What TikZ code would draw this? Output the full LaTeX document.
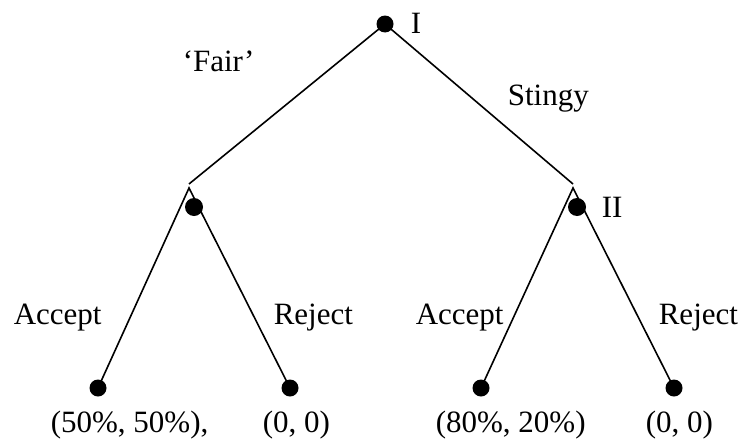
\documentclass[tikz,border=0pt]{standalone}
\usepackage{fontspec}
\setmainfont{Liberation Serif}

\begin{document}
\begin{tikzpicture}[x=1pt,y=-1pt,line width=1.6pt]
\tikzset{dot/.style={circle,fill=black,inner sep=0pt,minimum size=17pt},
  lbl/.style={anchor=base west,inner sep=0pt,font=\fontsize{31}{36}\selectfont}}
\useasboundingbox (0,0) rectangle (743,439);
% player I and the two offers
\node[dot] (I) at (385,24) {};
\coordinate (fairend) at (189,184);
\coordinate (fairtop) at (189,188);
\coordinate (stingyend) at (573,184);
\coordinate (stingytop) at (573,188);
\node[dot,minimum size=18pt] (F) at (194,207) {};
\node[dot,minimum size=18pt] (S) at (577,207) {};
% outcomes
\node[dot] (fa) at (98,388) {};
\node[dot] (fr) at (290,388) {};
\node[dot] (sa) at (481,388) {};
\node[dot] (sr) at (674,388) {};
\draw (I.center)--(fairend);
\draw (I.center)--(stingyend);
\draw (fa.center)--(fairtop)--(fr.center);
\draw (sa.center)--(stingytop)--(sr.center);
\node[lbl] (tI) at (410,33) {I};
\node[lbl] (tII) at (601,217) {II};
\node[lbl] (tfair) at (182,71) {`Fair'};
\node[lbl] (tstingy) at (507,105) {Stingy};
\node[lbl] (tfa) at (13,324) {Accept};
\node[lbl] (tfr) at (273,324) {Reject};
\node[lbl] (tsa) at (415,324) {Accept};
\node[lbl] (tsr) at (658,324) {Reject};
\node[lbl] (pfa) at (50,432) {(50\%, 50\%),};
\node[lbl] (pfr) at (262,432) {(0, 0)};
\node[lbl] (psa) at (435,432) {(80\%, 20\%)};
\node[lbl] (psr) at (645,432) {(0, 0)};
\end{tikzpicture}
\end{document}
